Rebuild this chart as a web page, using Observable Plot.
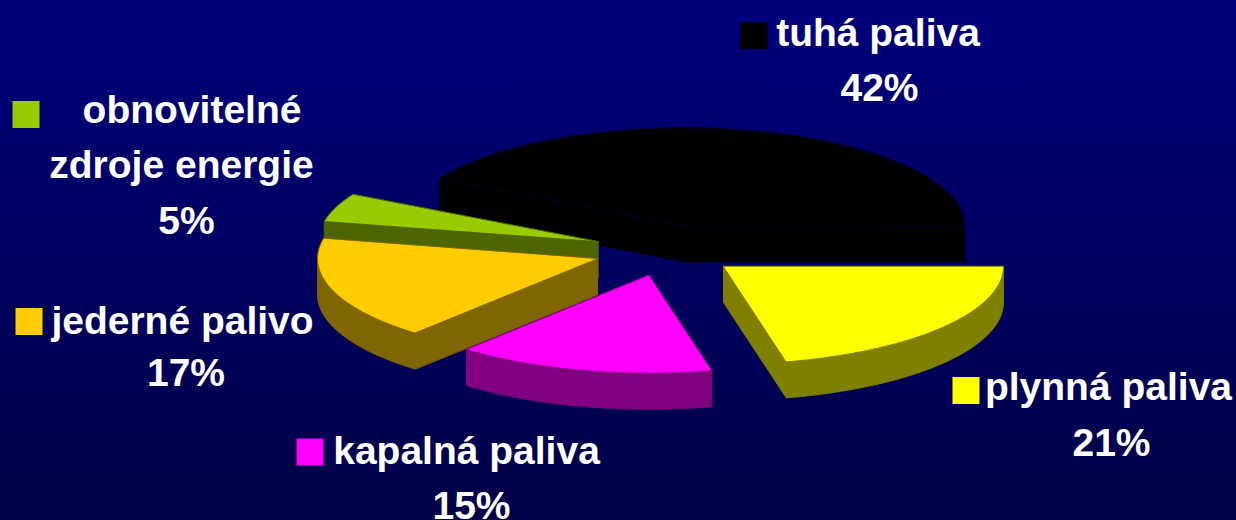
<!DOCTYPE html>
<html>
<head>
<meta charset="utf-8">
<script src="https://cdn.jsdelivr.net/npm/d3@7"></script>
<script src="https://cdn.jsdelivr.net/npm/@observablehq/plot@0.6"></script>
<style>
  html, body { margin: 0; padding: 0; background: #000060; }
  #chart { width: 1236px; height: 520px; }
</style>
</head>
<body>
<div id="chart"></div>
<script>
// ---- data ----
const categories = ["tuhá paliva", "plynná paliva", "kapalná paliva", "jederné palivo", "obnovitelné zdroje energie"];
// slice shares (labels show the rounded percentages)
const values = [42.0, 21.4, 14.9, 17.0, 4.7];
const percentLabels = ["42%", "21%", "15%", "17%", "5%"];
const labelLines = [["tuhá paliva"], ["plynná paliva"], ["kapalná paliva"], ["jederné palivo"], ["obnovitelné", "zdroje energie"]];
const topColors = ["#000000", "#FFFF00", "#FF00FF", "#FFCC00", "#99CC00"];
const sideColors = ["#000000", "#808000", "#800080", "#806600", "#4D6600"];
const edgeColors = ["#00003c", "#808000", "#800080", "#806600", "#4D6600"];

// ---- layout ----
const W = 1236, H = 520;
const pie = {cx: 666, cy: 250, rx: 280, ry: 98, depth: 36, explode: 0.26, startDeg: -61.2};
const labelLayout = [
  {key: [753.5, 35],  lines: [[877.5, 45], [879, 100]]},
  {key: [965.5, 390], lines: [[1108, 399], [1111, 455]]},
  {key: [309.5, 451.5], lines: [[466, 463], [471, 518]]},
  {key: [28.5, 321],  lines: [[182, 333], [185.5, 385]]},
  {key: [25.5, 114],  lines: [[191.5, 122], [181, 177], [186, 233]]}
];

// ---- pie geometry ----
const total = d3.sum(values);
const rad = d => d * Math.PI / 180;
let acc = pie.startDeg;
const slices = values.map((v, i) => {
  const a0 = acc, a1 = acc + v / total * 360;
  acc = a1;
  return {i, a0, a1, mid: (a0 + a1) / 2};
});
function pt(s, a, r, z) {
  const ox = pie.explode * Math.sin(rad(s.mid));
  const oy = pie.explode * Math.cos(rad(s.mid));
  return [pie.cx + pie.rx * (ox + r * Math.sin(rad(a))),
          pie.cy - pie.ry * (oy + r * Math.cos(rad(a))) + z];
}
function face(s, z) {
  const pts = [pt(s, 0, 0, z)];
  const n = Math.max(2, Math.ceil((s.a1 - s.a0) / 1.5));
  for (let k = 0; k <= n; k++) pts.push(pt(s, s.a0 + (s.a1 - s.a0) * k / n, 1, z));
  return pts;
}
// painter's order: farthest (back) slices first
const order = slices.slice().sort((a, b) => Math.cos(rad(b.mid)) - Math.cos(rad(a.mid)));

const marks = [];
for (const s of order) {
  const top = face(s, 0);
  const bottom = face(s, pie.depth);
  const hull = d3.polygonHull(top.concat(bottom));
  marks.push(Plot.line(hull, {x: d => d[0], y: d => d[1], curve: "linear-closed",
    fill: sideColors[s.i], stroke: sideColors[s.i], strokeWidth: 1}));
  marks.push(Plot.line(top, {x: d => d[0], y: d => d[1], curve: "linear-closed",
    fill: topColors[s.i], stroke: edgeColors[s.i], strokeWidth: 0.9}));
}

// ---- labels ----
const textRows = [];
categories.forEach((c, i) => {
  const lines = labelLines[i].concat([percentLabels[i]]);
  lines.forEach((t, j) => {
    const [x, y] = labelLayout[i].lines[j];
    textRows.push({x, y, t});
  });
  marks.push(Plot.dot([labelLayout[i].key], {x: d => d[0], y: d => d[1], symbol: "square",
    r: Math.sqrt(27 * 27 / Math.PI), fill: topColors[i], stroke: "none"}));
});
marks.push(Plot.text(textRows, {x: "x", y: "y", text: "t", fill: "white",
  fontSize: 39, fontWeight: "bold", fontFamily: "Liberation Sans, Arial, sans-serif",
  textAnchor: "middle", lineAnchor: "bottom"}));

const chart = Plot.plot({
  width: W, height: H,
  marginTop: 0, marginRight: 0, marginBottom: 0, marginLeft: 0,
  x: {domain: [0, W], range: [0, W], axis: null},
  y: {domain: [0, H], range: [0, H], axis: null},
  style: {background: "linear-gradient(#00007c, #000046)", overflow: "visible"},
  marks
});
document.getElementById("chart").appendChild(chart);
</script>
</body>
</html>
